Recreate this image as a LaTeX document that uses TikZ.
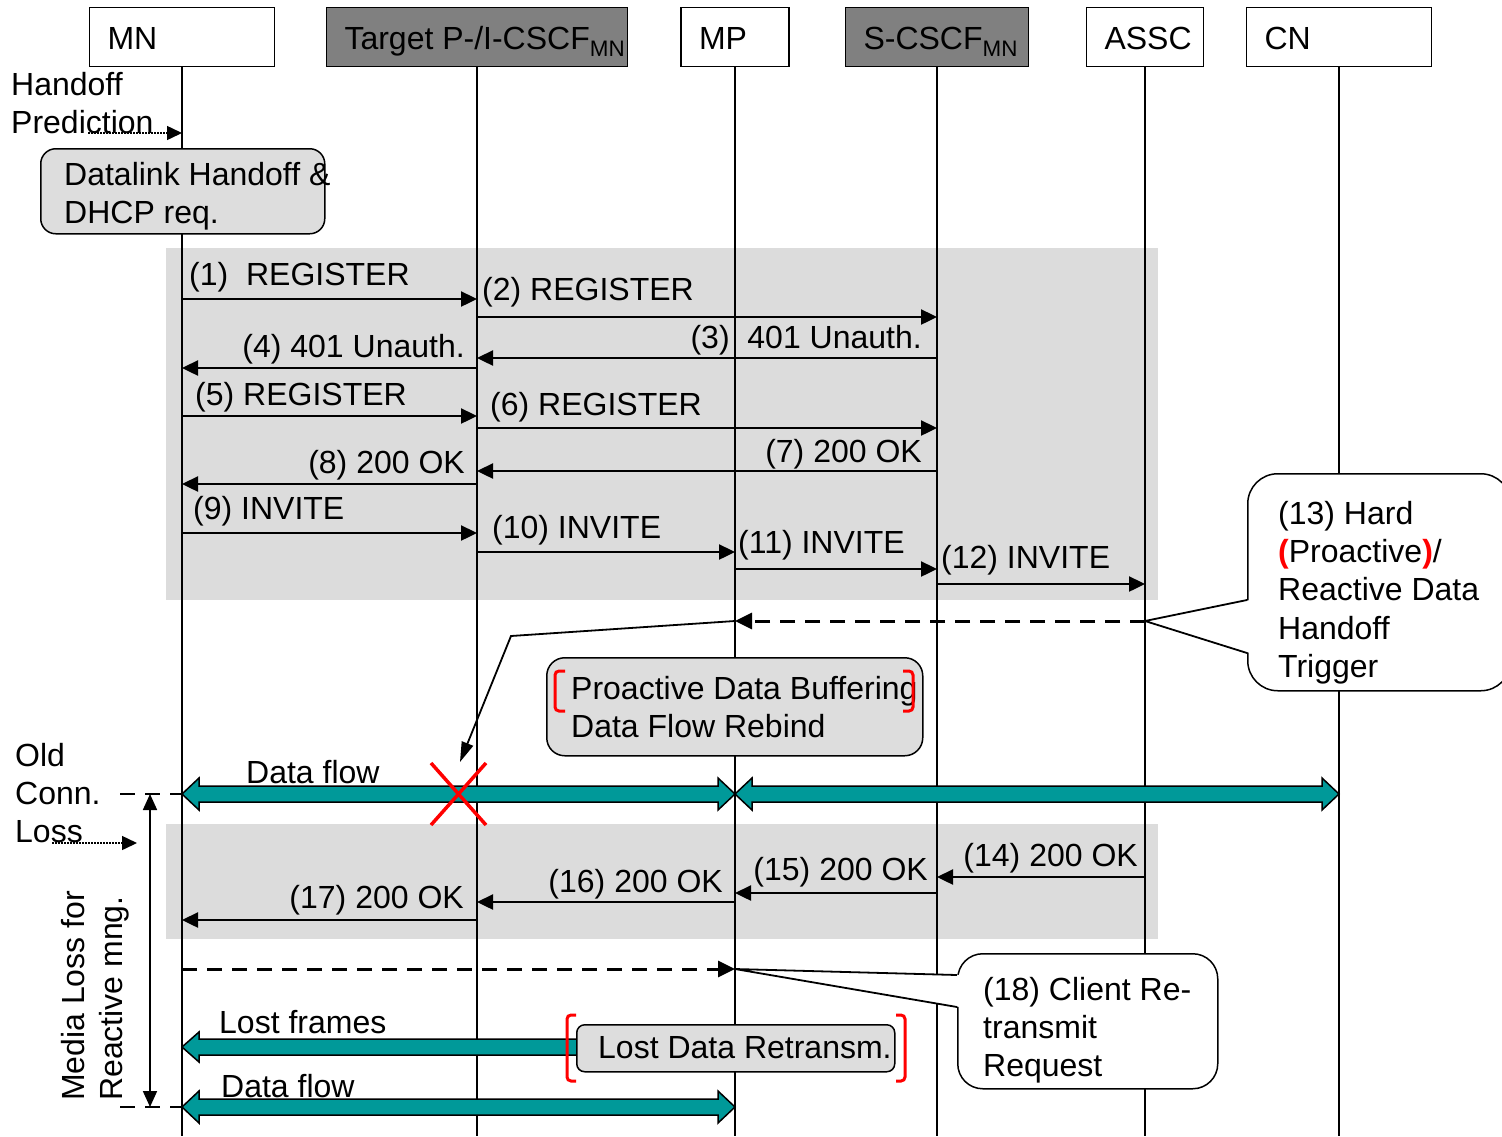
\documentclass[tikz,border=0pt]{standalone}
\usepackage{fontspec}
\setmainfont{Liberation Sans}
\usetikzlibrary{arrows.meta,calc}
\definecolor{flowc}{HTML}{009999}
\definecolor{lgray}{HTML}{DDDDDD}
\definecolor{dgray}{HTML}{808080}
\definecolor{bandc}{HTML}{DCDCDC}
\newcommand\hb[2]{\makebox[#1][l]{#2}}
\newcommand\rp[1]{{\color{red}\bfseries #1}}
\newcommand\dflow[2]{\filldraw[flow] let \p1=(#1), \p2=(#2) in (\x1,\y1) -- (\x1+17pt,\y1+16pt) -- (\x1+17pt,\y1+8pt) -- (\x2-17pt,\y2+8pt) -- (\x2-17pt,\y2+16pt) -- (\x2,\y2) -- (\x2-17pt,\y2-16pt) -- (\x2-17pt,\y2-8pt) -- (\x1+17pt,\y1-8pt) -- (\x1+17pt,\y1-16pt) -- cycle;}
\newcommand\lflow[2]{\filldraw[flow] let \p1=(#1), \p2=(#2) in (\x1,\y1) -- (\x1+17pt,\y1+15pt) -- (\x1+17pt,\y1+8pt) -- (\x2,\y2+8pt) -- (\x2,\y2-8pt) -- (\x1+17pt,\y1-8pt) -- (\x1+17pt,\y1-15pt) -- cycle;}
\begin{document}
\begin{tikzpicture}[x=1pt,y=-1pt,
  font=\fontsize{32}{38.4}\selectfont,
  hdr/.style={draw,line width=1.5pt,minimum height=59pt,inner xsep=18pt,inner ysep=0pt,text height=30pt,text depth=5pt},
  life/.style={line width=1.4pt},
  msg/.style={line width=2.4pt,-{Triangle[length=16pt,width=15pt]}},
  lbl/.style={inner sep=0pt},
  txt/.style={inner sep=0pt,align=left},
  rbox/.style={draw,line width=1.5pt,fill=lgray},
  cbox/.style={draw,line width=1.5pt,fill=white},
  flow/.style={fill=flowc,draw=black,line width=1.5pt,line join=miter},
  dsh/.style={line width=3pt,dash pattern=on 15pt off 10pt},
  dott/.style={line width=1.5pt,dash pattern=on 1.5pt off 1.5pt},
  brk/.style={draw=red,line width=3pt,rounded corners=4pt},
  thinl/.style={line width=1.8pt},
  tip/.style={-{Triangle[length=17pt,width=16pt]}}
]
\useasboundingbox (0,0) rectangle (1502,1136);

% shaded bands
\fill[bandc] (166,248) rectangle (1158,600);
\fill[bandc] (166,824) rectangle (1158,939);

% headers
\node[hdr] (mn) at (182,37) {\hb{149pt}{MN}};
\node[hdr,fill=dgray] (pc) at (477,37) {\hb{265pt}{Target P-/I-CSCF\textsubscript{MN}}};
\node[hdr] (mp) at (735,37) {\hb{72pt}{MP}};
\node[hdr,fill=dgray] (sc) at (937,37) {\hb{147pt}{S-CSCF\textsubscript{MN}}};
\node[hdr] (assc) at (1145,37) {\hb{81pt}{ASSC}};
\node[hdr] (cn) at (1339,37) {\hb{149pt}{CN}};

% lifelines
\foreach \n in {mn,pc,mp,sc,assc,cn} \draw[life] (\n.south) -- (\n.south |- 0,1136);

% handoff prediction
\node[txt,anchor=base west] (hp) at (11,133.4) {Handoff\\Prediction};
\coordinate (hpe) at (88,133);
\draw[dott,-{Triangle[length=15pt,width=14pt]}] (hpe) -- (mn |- 0,133);

% datalink box
\node[rbox,rounded corners=15pt,minimum width=284pt,minimum height=85pt,anchor=north west] (dl) at (40,148) {};
\node[txt,anchor=base west] (dlt) at (64,223.4) {Datalink Handoff \&\\DHCP req.};

% messages 1-12
\draw[msg] (mn |- 0,299) -- (pc |- 0,299);
\node[lbl,anchor=base west] (l1) at (189,285) {(1)\ \ REGISTER};
\draw[msg] (pc |- 0,317) -- (sc |- 0,317);
\node[lbl,anchor=base west] (l2) at (482,300) {(2) REGISTER};
\draw[msg] (sc |- 0,358) -- (pc |- 0,358);
\node[lbl,anchor=base east] (l3) at (922,348) {(3)\ \ 401 Unauth.};
\draw[msg] (pc |- 0,368) -- (mn |- 0,368);
\node[lbl,anchor=base east] (l4) at (465,357) {(4) 401 Unauth.};
\draw[msg] (mn |- 0,416) -- (pc |- 0,416);
\node[lbl,anchor=base west] (l5) at (195,405) {(5) REGISTER};
\draw[msg] (pc |- 0,428) -- (sc |- 0,428);
\node[lbl,anchor=base west] (l6) at (490,415) {(6) REGISTER};
\draw[msg] (sc |- 0,471) -- (pc |- 0,471);
\node[lbl,anchor=base east] (l7) at (922,462) {(7) 200 OK};
\draw[msg] (pc |- 0,484) -- (mn |- 0,484);
\node[lbl,anchor=base east] (l8) at (465,473) {(8) 200 OK};
\draw[msg] (mn |- 0,533) -- (pc |- 0,533);
\node[lbl,anchor=base west] (l9) at (193,519) {(9) INVITE};
\draw[msg] (pc |- 0,552) -- (mp |- 0,552);
\node[lbl,anchor=base west] (l10) at (492,538) {(10) INVITE};
\draw[msg] (mp |- 0,569) -- (sc |- 0,569);
\node[lbl,anchor=base west] (l11) at (738,553) {(11) INVITE};
\draw[msg] (sc |- 0,584) -- (assc |- 0,584);
\node[lbl,anchor=base west] (l12) at (941,568) {(12) INVITE};

% (13) trigger
\draw[dsh,tip] (assc |- 0,621) coordinate (t13b) -- (mp |- 0,621) coordinate (t13);
\coordinate (xt) at (460,762);
\draw[thinl,-{Triangle[length=20pt,width=12pt]}] (t13) -- (511,636) -- (xt);
\node[cbox,rounded corners=30pt,minimum width=263pt,minimum height=217pt,anchor=north west] (c13) at (1247,473) {};
\fill[white] ($(c13.north west)+(3,127)$) -- (t13b) -- ($(c13.north west)+(3,180)$) -- cycle;
\draw[thinl] ($(c13.north west)+(0,127)$) -- (t13b) -- ($(c13.north west)+(0,180)$);
\node[txt,anchor=base west] (c13t) at (1278,677.6) {(13) Hard\\\rp{(}Proactive\rp{)}/\\Reactive Data\\Handoff\\Trigger};

% proactive box
\node[rbox,rounded corners=18pt,minimum width=376pt,minimum height=98pt,anchor=north west] (pb) at (546,657) {};
\node[txt,anchor=base west] (pbt) at (571,737.4) {Proactive Data Buffering\\Data Flow Rebind};
\draw[brk] (565,671) -- (555,671) -- (555,711) -- (565,711);
\draw[brk] (903,671) -- (913,671) -- (913,711) -- (903,711);

% data flow (old)
\coordinate (f1a) at (mn |- 0,794);
\coordinate (f1b) at (mp |- 0,794);
\coordinate (f2b) at (cn |- 0,794);
\dflow{f1a}{f1b}
\dflow{f1b}{f2b}
\node[lbl,anchor=base west] (df1) at (246,783) {Data flow};
\draw[red,line width=3.5pt] (431,763) -- (486,825) (486,763) -- (431,825);

% old conn loss
\node[txt,anchor=base west] (ocl) at (15,842.8) {Old\\Conn.\\Loss};
\coordinate (ol1) at (120,794);
\draw[dsh,line width=2.5pt] (ol1) -- (f1a);
\coordinate (lossa) at (52,843);
\coordinate (lossb) at (137,843);
\draw[dott,-{Triangle[length=15pt,width=14pt]}] (lossa) -- (lossb);
\coordinate (va) at (150,794);
\coordinate (vb) at (150,1107);
\draw[thinl,{Triangle[length=16pt,width=14pt]}-{Triangle[length=16pt,width=14pt]}] (va) -- (vb);
\node[txt,rotate=90,anchor=base west] (ml) at (122.4,1101) {Media Loss for\\Reactive mng.};

% messages 14-17
\draw[msg] (assc |- 0,877) -- (sc |- 0,877);
\node[lbl,anchor=base east] (l14) at (1138,866) {(14) 200 OK};
\draw[msg] (sc |- 0,893) -- (mp |- 0,893);
\node[lbl,anchor=base east] (l15) at (928,880) {(15) 200 OK};
\draw[msg] (mp |- 0,902) -- (pc |- 0,902);
\node[lbl,anchor=base east] (l16) at (723,892) {(16) 200 OK};
\draw[msg] (pc |- 0,920) -- (mn |- 0,920);
\node[lbl,anchor=base east] (l17) at (464,908) {(17) 200 OK};

% (18) retransmit request
\draw[dsh,tip] (mn |- 0,969) -- (mp |- 0,969) coordinate (t18);
\node[cbox,rounded corners=25pt,minimum width=260pt,minimum height=135pt,anchor=north west] (c18) at (957,953) {};
\fill[white] ($(c18.north west)+(3,22)$) -- (t18) -- ($(c18.north west)+(3,54)$) -- cycle;
\draw[thinl] ($(c18.north west)+(0,22)$) -- (t18) -- ($(c18.north west)+(0,54)$);
\node[txt,anchor=base west] (c18t) at (983,1076.8) {(18) Client Re-\\transmit\\Request};

% lost frames
\coordinate (lfa) at (mn |- 0,1047);
\coordinate (lfb) at (590,1047);
\lflow{lfa}{lfb}
\node[lbl,anchor=base west] (lf) at (219,1033) {Lost frames};
\node[rbox,rounded corners=8pt,minimum width=318pt,minimum height=47pt,anchor=north west] (ld) at (576,1024) {};
\node[lbl,anchor=base west] (ldt) at (598,1058) {Lost Data Retransm.};
\draw[brk] (576,1015) -- (567,1015) -- (567,1081) -- (576,1081);
\draw[brk] (896,1015) -- (905,1015) -- (905,1081) -- (896,1081);

% data flow (new)
\coordinate (f3a) at (mn |- 0,1107);
\coordinate (f3b) at (mp |- 0,1107);
\dflow{f3a}{f3b}
\node[lbl,anchor=base west] (df3) at (221,1097) {Data flow};
\coordinate (ol2) at (120,1107);
\draw[dsh,line width=2.5pt] (ol2) -- (f3a);
\end{tikzpicture}
\end{document}
